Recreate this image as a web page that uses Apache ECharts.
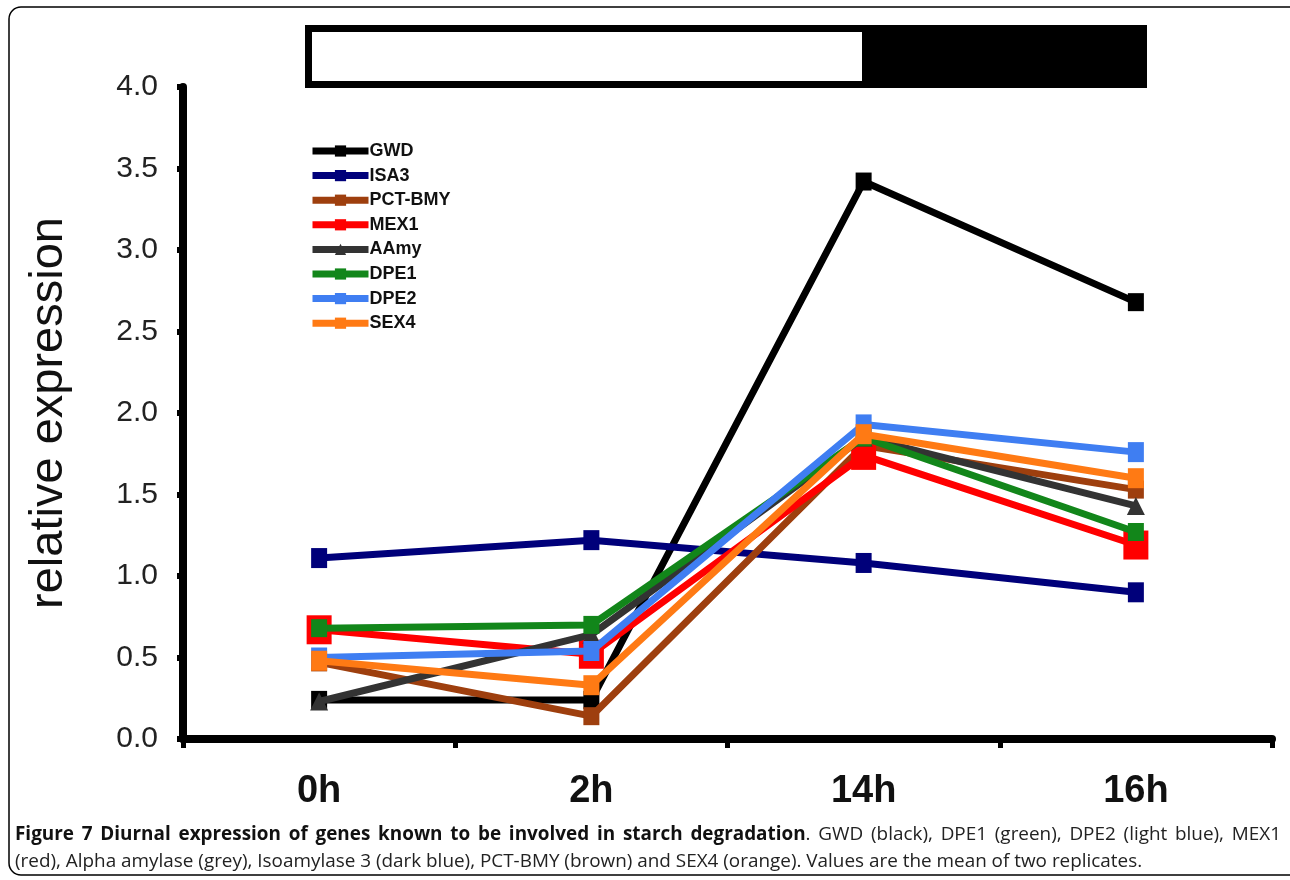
<!DOCTYPE html>
<html><head><meta charset="utf-8">
<script src="https://cdn.jsdelivr.net/npm/echarts@6/dist/echarts.min.js"></script>
<style>html,body{margin:0;padding:0;background:#fff}#c{width:1290px;height:880px}</style>
</head><body><div id="c"></div>
<script>
var categories = ['0h', '2h', '14h', '16h'];
var yTicks = [0, 0.5, 1, 1.5, 2, 2.5, 3, 3.5, 4];
var seriesNames = ['GWD', 'ISA3', 'PCT-BMY', 'MEX1', 'AAmy', 'DPE1', 'DPE2', 'SEX4'];
var GWD = [0.24, 0.24, 3.42, 2.68];
var ISA3 = [1.11, 1.22, 1.08, 0.90];
var PCT_BMY = [0.47, 0.14, 1.80, 1.53];
var MEX1 = [0.67, 0.52, 1.74, 1.19];
var AAmy = [0.23, 0.64, 1.85, 1.43];
var DPE1 = [0.68, 0.70, 1.85, 1.27];
var DPE2 = [0.50, 0.54, 1.93, 1.76];
var SEX4 = [0.48, 0.33, 1.87, 1.60];
var seriesValues = [GWD, ISA3, PCT_BMY, MEX1, AAmy, DPE1, DPE2, SEX4];
var captionBold = 'Figure 7 Diurnal expression of genes known to be involved in starch degradation';
var captionRest1 = '. GWD (black), DPE1 (green), DPE2 (light blue), MEX1';
var captionLine2 = '(red), Alpha amylase (grey), Isoamylase 3 (dark blue), PCT-BMY (brown) and SEX4 (orange). Values are the mean of two replicates.';

var colors = ['#000000', '#00007a', '#9e3f0e', '#ff0000', '#333333', '#12861a', '#3f7ef2', '#ff7a14'];
var symbols = ['rect', 'rect', 'rect', 'rect', 'triangle', 'rect', 'rect', 'rect'];
var symbolSizes = [[16, 18], [16, 20], [16, 18], [25, 29], [18, 18], [16, 18], [16, 20], [16, 20]];
var capFont = '"Open Sans", "DejaVu Sans", sans-serif';
var capSize = 18.9;

// justified first caption line built from words
var ctx = document.createElement('canvas').getContext('2d');
function w(t, b) { ctx.font = (b ? 'bold ' : '') + capSize + 'px ' + capFont; return ctx.measureText(t).width; }
var words = captionBold.split(' ').map(function (t) { return [{t: t, b: true}]; });
var restWords = captionRest1.split(' ');
words[words.length - 1].push({t: restWords[0], b: false});
restWords.slice(1).forEach(function (t) { words.push([{t: t, b: false}]); });
var widths = words.map(function (wd) { return wd.reduce(function (s, p) { return s + w(p.t, p.b); }, 0); });
var total = widths.reduce(function (a, b) { return a + b; }, 0);
var x0 = 15, x1 = 1281;
var gap = (x1 - x0 - total) / (words.length - 1);
var capGraphics = [];
var cx = x0;
words.forEach(function (wd, i) {
  capGraphics.push({type: 'text', x: cx, y: 835, silent: true, style: {
    text: wd.map(function (p) { return '{' + (p.b ? 'b' : 'n') + '|' + p.t + '}'; }).join(''),
    verticalAlign: 'middle',
    rich: {
      b: {fontFamily: capFont, fontWeight: 'bold', fontSize: capSize, fill: '#111'},
      n: {fontFamily: capFont, fontSize: capSize, fill: '#222'}
    }
  }});
  cx += widths[i] + gap;
});
capGraphics.push({type: 'text', x: x0, y: 862, silent: true, style: {
  text: captionLine2, verticalAlign: 'middle', fontFamily: capFont, fontSize: capSize, fill: '#222'
}});

var chart = echarts.init(document.getElementById('c'), null, {renderer: 'canvas'});
var series = seriesNames.map(function (n, i) {
  return {
    name: n, type: 'line', data: seriesValues[i],
    symbol: symbols[i], symbolSize: symbolSizes[i], showAllSymbol: true,
    lineStyle: {color: colors[i], width: 7},
    itemStyle: {color: colors[i]},
    z: 2 + i, animation: false
  };
});
chart.setOption({
  animation: false,
  backgroundColor: '#fff',
  grid: {left: 183, top: 87, width: 1089, height: 652, containLabel: false},
  legend: {
    data: seriesNames, orient: 'vertical', left: 304, top: 137,
    itemWidth: 56, itemHeight: 14, itemGap: 6.6,
    lineStyle: {width: 7},
    itemStyle: {borderWidth: 0},
    textStyle: {fontFamily: 'Liberation Sans', fontWeight: 'bold', fontSize: 18, color: '#111', padding: [0, 0, 0, -4]}
  },
  xAxis: {
    type: 'category', data: categories, boundaryGap: true,
    axisLine: {lineStyle: {color: '#000', width: 8, cap: 'round'}},
    axisTick: {show: true, length: 9, lineStyle: {color: '#000', width: 5}},
    axisLabel: {color: '#111', fontFamily: 'Liberation Sans', fontWeight: 'bold', fontSize: 38, margin: 34},
    splitLine: {show: false}
  },
  yAxis: {
    type: 'value', min: 0, max: 4, interval: 0.5,
    name: 'relative expression', nameLocation: 'middle', nameGap: 110, nameRotate: 90,
    nameTextStyle: {fontFamily: 'Liberation Sans', fontSize: 47, color: '#111'},
    axisLine: {show: true, lineStyle: {color: '#000', width: 8}},
    axisTick: {show: true, length: 6, lineStyle: {color: '#000', width: 6}},
    axisLabel: {color: '#222', fontFamily: '"Liberation Sans Narrow", "Liberation Sans"', fontSize: 30, margin: 25,
      formatter: function (v) { return yTicks.indexOf(v) >= 0 ? v.toFixed(1) : ''; }},
    splitLine: {show: false}
  },
  series: series,
  graphic: [
    {type: 'rect', shape: {x: 9, y: 7, width: 1300, height: 868, r: 12}, style: {fill: 'none', stroke: '#000', lineWidth: 1.5}, silent: true},
    {type: 'rect', shape: {x: 305, y: 25, width: 842, height: 63}, style: {fill: '#000'}},
    {type: 'rect', shape: {x: 312, y: 32, width: 550, height: 49}, style: {fill: '#fff'}}
  ].concat(capGraphics)
});
</script></body></html>
